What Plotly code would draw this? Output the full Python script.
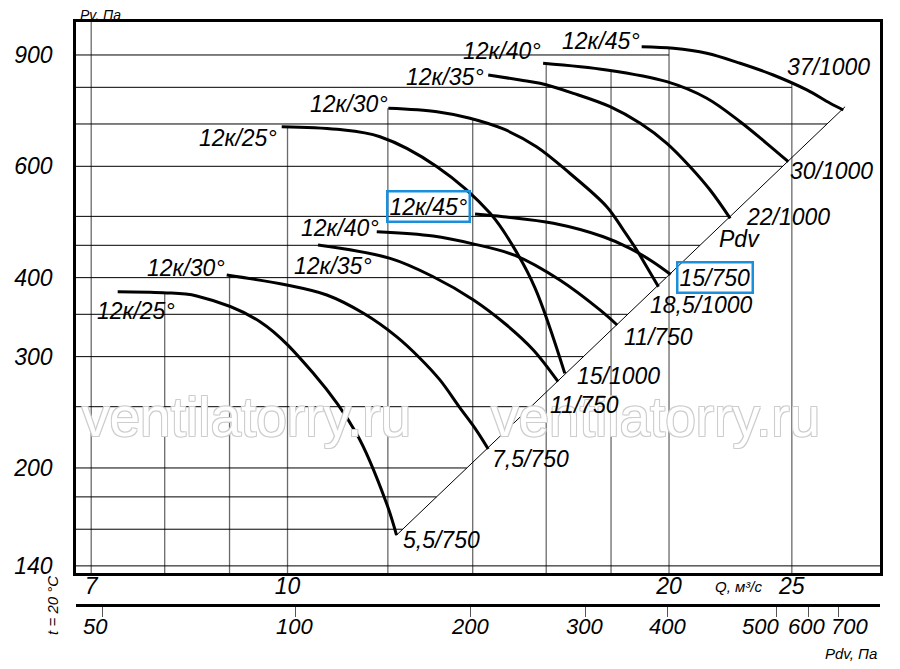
import numpy as np
import plotly.graph_objects as go

# ---------------- axis extents (log10 units) ----------------
Q_RANGE = [0.8331, 1.4675]      # Q, m3/s  (about 6.8 ... 29.3)
P_RANGE = [2.1349, 3.0064]      # Pv, Pa   (about 136 ... 1015)

# ---------------- fan curves: Q (m3/s) and Pv (Pa) ----------------
# lower family
low25_q = [7.345, 7.976, 8.479, 9.513, 10.48, 11.34, 11.97, 12.19]
low25_p = [380.0, 378.6, 374.1, 340.7, 282.3, 226.3, 175.9, 156.6]

low30_q = [8.954, 9.985, 10.74, 11.48, 12.19, 12.72, 13.19, 13.68, 14.09, 14.40]
low30_p = [403.8, 389.4, 375.5, 351.3, 322.7, 298.3, 275.6, 248.9, 229.6, 214.3]

low35_q = [10.57, 12.05, 13.03, 14.02, 14.89, 15.63, 16.35]
low35_p = [450.4, 429.1, 401.3, 368.8, 336.6, 307.4, 273.8]

low40_q = [11.76, 13.03, 13.98, 15.12, 16.40, 17.64, 18.20]
low40_p = [472.8, 465.5, 452.8, 433.7, 396.5, 355.6, 336.6]

low45_q = [14.06, 14.80, 16.21, 17.75, 18.63, 19.43, 20.06]
low45_p = [504.4, 499.4, 487.5, 464.2, 445.1, 423.5, 404.6]

# upper family
up25_q = [9.895, 10.94, 11.83, 13.12, 14.45, 15.07, 15.68, 16.55]
up25_p = [693.1, 686.5, 668.3, 599.2, 505.6, 447.8, 385.1, 282.3]

up30_q = [12.01, 13.12, 13.93, 14.80, 15.72, 16.70, 17.86, 18.41, 18.86, 19.21, 19.62]
up30_p = [741.2, 732.1, 714.9, 687.4, 644.5, 585.0, 518.0, 475.7, 442.4, 415.8, 387.0]

up35_q = [14.40, 15.26, 15.82, 16.81, 17.97, 18.98, 19.92, 20.78, 21.55, 22.35]
up35_p = [836.7, 821.7, 811.8, 782.7, 745.5, 701.7, 652.5, 599.2, 550.4, 496.5]

up40_q = [15.91, 17.86, 19.92, 21.42, 22.76, 23.88, 24.84]
up40_p = [873.2, 852.1, 816.6, 768.8, 705.8, 652.5, 610.2]

up45_q = [19.03, 20.16, 21.42, 22.76, 24.17, 25.69, 26.80, 27.45]
up45_p = [927.6, 922.2, 905.6, 873.2, 836.7, 792.4, 754.8, 736.6]

# dynamic-pressure line Pdv
pdv_line_q = [12.19, 27.54]
pdv_line_p = [156.6, 745.5]

# ---------------- grid ----------------
grid_q = [7, 8, 9, 10, 12, 14, 16, 18, 20, 25]
grid_q_top = [1015, 378.6, 403.0, 692.0, 741.0, 714.0, 872.0, 847.0, 923.0, 816.0]   # Pv where each vertical starts
grid_p = [140, 160, 180, 200, 250, 300, 350, 400, 450, 500, 600, 700, 800, 900]
grid_p_right = {900: 20.0, 800: 25.0, 140: 29.35}      # rows not ending at the Pdv line

# ---------------- tick labels ----------------
y_tick_vals = [140, 200, 300, 400, 600, 900]
x_tick_vals = [7, 10, 20, 25]
pdv_labels = ["50", "100", "200", "300", "400", "500", "600", "700"]
pdv_tick_q = [7.15, 10.14, 13.95, 17.17, 19.95, 24.33, 25.75, 27.19]    # Q position of each Pdv tick
pdv_label_q = [7.049, 10.12, 13.93, 17.14, 19.93, 23.60, 25.66, 27.74]  # Q position of each Pdv label

# ---------------- labels ----------------
curve_labels = ["12к/25°", "12к/30°", "12к/35°", "12к/40°", "12к/45°",
                "12к/25°", "12к/30°", "12к/35°", "12к/40°", "12к/45°"]
curve_label_q = [7.594, 8.316, 10.86, 11.00, 12.91, 9.141, 11.18, 13.32, 14.77, 17.68]
curve_label_p = [354.2, 414.4, 417.4, 479.3, 518.3, 665.2, 752.9, 829.3, 913.2, 947.2]

end_labels = ["5,5/750", "7,5/750", "11/750", "15/1000", "11/750", "18,5/1000",
              "15/750", "Pdv", "22/1000", "30/1000", "37/1000"]
end_label_q = [13.24, 15.54, 17.14, 18.26, 19.61, 21.20, 21.75, 22.72, 24.83, 26.89, 26.70]
end_label_p = [153.8, 206.7, 251.6, 279.6, 322.3, 362.1, 399.5, 460.5, 498.0, 589.8, 859.9]

boxed = {(4, "curve"), (6, "end")}
watermark = "ventilatorry.ru"
watermark_q = [9.274, 19.50]
watermark_p = [240.8, 240.8]

FONT = "Liberation Sans, Arial, sans-serif"
BLUE = "#1a8fdc"

fig = go.Figure()

# ---- grid as segments ----
q_lo, q_hi = 10 ** Q_RANGE[0], 10 ** Q_RANGE[1]
p_lo, p_hi = 10 ** P_RANGE[0], 10 ** P_RANGE[1]

vx, vy = [], []
for q, top in zip(grid_q, grid_q_top):
    vx += [q, q, None]
    vy += [p_lo, top, None]

lq = np.log10(pdv_line_q)
lp = np.log10(pdv_line_p)
slope = (lp[1] - lp[0]) / (lq[1] - lq[0])

hx, hy = [], []
for p in grid_p:
    if p in grid_p_right:
        right = grid_p_right[p]
    else:
        right = 10 ** (lq[0] + (np.log10(p) - lp[0]) / slope)
    hx += [q_lo, right, None]
    hy += [p, p, None]

fig.add_trace(go.Scatter(x=vx, y=vy, mode="lines", line=dict(color="#6a6a6a", width=1.3),
                         hoverinfo="skip", showlegend=False))
fig.add_trace(go.Scatter(x=hx, y=hy, mode="lines", line=dict(color="black", width=1),
                         hoverinfo="skip", showlegend=False))

# ---- Pdv line ----
fig.add_trace(go.Scatter(x=pdv_line_q, y=pdv_line_p, mode="lines",
                         line=dict(color="black", width=1), hoverinfo="skip", showlegend=False))

# ---- fan curves ----
curves = [(low25_q, low25_p), (low30_q, low30_p), (low35_q, low35_p), (low40_q, low40_p),
          (low45_q, low45_p), (up25_q, up25_p), (up30_q, up30_p), (up35_q, up35_p),
          (up40_q, up40_p), (up45_q, up45_p)]
for q, p in curves:
    fig.add_trace(go.Scatter(x=q, y=p, mode="lines",
                             line=dict(color="black", width=3, shape="spline", smoothing=1.0),
                             hoverinfo="skip", showlegend=False))

# dummy trace to activate the Pdv axis
fig.add_trace(go.Scatter(x=[pdv_tick_q[0]], y=[200], xaxis="x2", yaxis="y", mode="markers",
                         marker=dict(opacity=0), hoverinfo="skip", showlegend=False))

annotations = []
for w_q, w_p in zip(watermark_q, watermark_p):
    annotations.append(dict(x=np.log10(w_q), y=np.log10(w_p), xref="x", yref="y",
                            text=watermark, showarrow=False,
                            font=dict(family=FONT, size=55, color="white",
                                      shadow="-1px -1px 0 #cdcdcd, 1px -1px 0 #cdcdcd, -1px 1px 0 #cdcdcd, 1px 1px 0 #cdcdcd")))

label_font = dict(family=FONT, size=23, color="black", style="italic")
for i, (t, q, p) in enumerate(zip(curve_labels, curve_label_q, curve_label_p)):
    a = dict(x=np.log10(q), y=np.log10(p), xref="x", yref="y", text=t,
             showarrow=False, font=label_font)
    if (i, "curve") in boxed:
        a.update(bordercolor=BLUE, borderwidth=2.5, borderpad=1)
    annotations.append(a)
for i, (t, q, p) in enumerate(zip(end_labels, end_label_q, end_label_p)):
    a = dict(x=np.log10(q), y=np.log10(p), xref="x", yref="y", text=t,
             showarrow=False, font=label_font)
    if (i, "end") in boxed:
        a.update(bordercolor=BLUE, borderwidth=2.5, borderpad=1)
    annotations.append(a)

# Pdv axis labels
pdv_font = dict(family=FONT, size=22, color="black", style="italic")
for t, q in zip(pdv_labels, pdv_label_q):
    annotations.append(dict(x=np.log10(q), y=-0.0377, xref="x", yref="paper", text=t,
                            showarrow=False, xanchor="center", yanchor="middle", font=pdv_font))

small = dict(family=FONT, size=15, color="black", style="italic")
annotations += [
    dict(x=0.031, y=1.0115, xref="paper", yref="paper", text="Pv, Па", showarrow=False,
         xanchor="center", yanchor="middle",
         font=dict(family=FONT, size=14, color="black", style="italic")),
    dict(x=0.8234, y=0.031, xref="paper", yref="paper", text="Q, м³/с", showarrow=False,
         xanchor="center", yanchor="middle", font=small),
    dict(x=0.964, y=-0.083, xref="paper", yref="paper", text="Pdv, Па", showarrow=False,
         xanchor="center", yanchor="middle", font=small),
    dict(x=-0.030, y=0.0, xref="paper", yref="paper", text="t = 20 °C", showarrow=False,
         xanchor="center", yanchor="middle", textangle=-90, font=small),
]

tickfont = dict(family=FONT, size=23, color="black", style="italic")
fig.update_layout(
    width=900, height=669,
    margin=dict(l=68, r=28, t=14, b=72, autoexpand=False),
    paper_bgcolor="white", plot_bgcolor="white",
    showlegend=False,
    xaxis=dict(type="log", range=Q_RANGE, showgrid=False, zeroline=False, automargin=False,
               tickvals=x_tick_vals, ticktext=[str(v) for v in x_tick_vals],
               tickfont=tickfont, showline=True, linecolor="black", linewidth=2.5,
               mirror=True, ticks="", ticklabelstandoff=-9, domain=[0, 1]),
    xaxis2=dict(type="log", range=Q_RANGE, overlaying="x", anchor="free", position=0,
                side="bottom", showgrid=False, zeroline=False, automargin=False,
                tickvals=pdv_tick_q, showticklabels=False,
                showline=True, linecolor="black", linewidth=2.5,
                ticks="outside", ticklen=10, tickwidth=1.3, tickcolor="#555"),
    yaxis=dict(type="log", range=P_RANGE, showgrid=False, zeroline=False, automargin=False,
               tickvals=y_tick_vals, ticktext=[str(v) for v in y_tick_vals],
               tickfont=tickfont, showline=True, linecolor="black", linewidth=2.5,
               mirror=True, ticks="outside", ticklen=16, tickcolor="rgba(0,0,0,0)",
               domain=[0.0549, 1]),
    annotations=annotations,
)

fig.write_html("out.html")
